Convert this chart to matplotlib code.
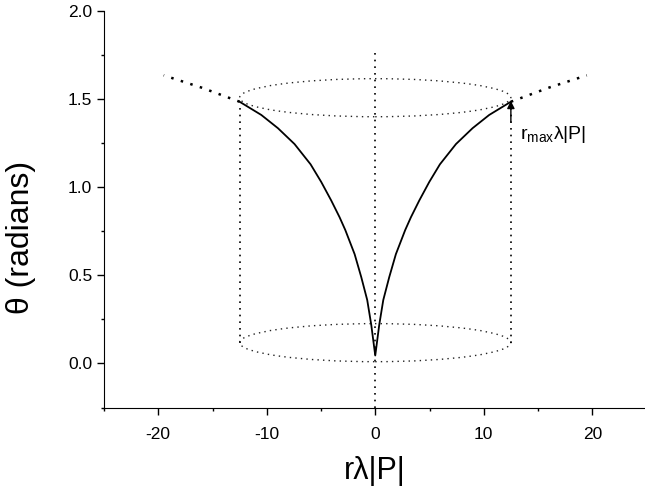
import numpy as np
import matplotlib
matplotlib.use('Agg')
import matplotlib.pyplot as plt
from matplotlib.patches import Ellipse
from matplotlib.ticker import MultipleLocator, FormatStrFormatter

plt.rcParams['font.family'] = ['Liberation Sans', 'DejaVu Sans']
plt.rcParams['axes.unicode_minus'] = False

# curve (right half, mirrored for the left)
r_pos = [0.0, 0.37, 0.74, 1.29, 1.9, 2.76, 3.29, 4.06, 4.98, 5.96, 7.44, 8.97, 10.5, 12.5]
theta_pos = [0.045, 0.22, 0.36, 0.49, 0.62, 0.757, 0.83, 0.925, 1.03, 1.13, 1.245, 1.335, 1.41, 1.485]

# dotted continuation beyond r_max
r_ext = [12.5, 16.0, 19.5]
theta_ext = [1.485, 1.565, 1.635]

r_max = 12.5
top_center, bottom_center = 1.508, 0.118
ellipse_height = 0.216

r_curve = np.concatenate([-np.array(r_pos[::-1]), np.array(r_pos[1:])])
theta_curve = np.concatenate([theta_pos[::-1], theta_pos[1:]])

fig = plt.figure(figsize=(6.45, 4.94), dpi=100)
ax = fig.add_axes([104 / 645, 86.5 / 494, 542.5 / 645, 396.5 / 494])

ax.plot(r_curve, theta_curve, color='black', lw=1.3, solid_joinstyle='round')
ax.plot(r_ext, theta_ext, color='black', lw=1.8, ls=(0, (1, 3)))
ax.plot([-x for x in r_ext], theta_ext, color='black', lw=1.8, ls=(0, (1, 3)))

# cylinder outline
for c in (top_center, bottom_center):
    ax.add_patch(Ellipse((0, c), 2 * r_max, ellipse_height, fill=False,
                         edgecolor='#222222', lw=1.0, ls=(0, (1, 3))))
for x in (-r_max, r_max):
    ax.plot([x, x], [bottom_center, 1.48], color='black', lw=1.2, ls=(0, (1, 3)))
ax.plot([0, 0], [-0.25, 1.79], color='black', lw=1.2, ls=(0, (1, 3)))

ax.annotate('', xy=(r_max, 1.49), xytext=(r_max, 1.37),
            arrowprops=dict(arrowstyle='-|>', color='black', lw=1.0,
                            mutation_scale=11, shrinkA=0, shrinkB=0))
ax.text(13.3, 1.30, r'r$_{\mathregular{max}}$λ|P|', fontsize=14, va='center', ha='left')

ax.set_xlim(-25, 25)
ax.set_ylim(-0.25, 2.0)
ax.xaxis.set_major_locator(MultipleLocator(10))
ax.xaxis.set_minor_locator(MultipleLocator(5))
ax.yaxis.set_major_locator(MultipleLocator(0.5))
ax.yaxis.set_minor_locator(MultipleLocator(0.25))
ax.yaxis.set_major_formatter(FormatStrFormatter('%.1f'))
ax.tick_params(which='major', direction='out', length=5, width=1, labelsize=12.5)
ax.tick_params(which='minor', direction='out', length=2.5, width=1)
ax.tick_params(axis='x', which='major', pad=9)
ax.tick_params(axis='y', which='major', pad=3.5)
ax.spines['top'].set_visible(False)
ax.spines['right'].set_visible(False)

ax.set_xlabel('rλ|P|', fontsize=22, labelpad=10)
ax.set_ylabel('θ (radians)', fontsize=23)
ax.yaxis.set_label_coords(-0.126, 0.43)

fig.savefig('out.png', dpi=100)
